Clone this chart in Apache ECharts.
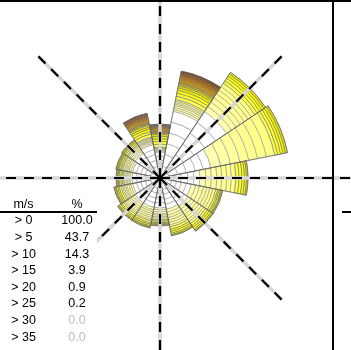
<!DOCTYPE html>
<html><head><meta charset="utf-8">
<script src="https://cdn.jsdelivr.net/npm/echarts@6/dist/echarts.min.js"></script>
<style>html,body{margin:0;padding:0;background:#fff}#c{width:351px;height:350px}</style>
</head><body><div id="c"></div>
<script>
// 16 wind directions
const directions = ['N','NNE','NE','ENE','E','ESE','SE','SSE','S','SSW','SW','WSW','W','WNW','NW','NNW'];

// Ring widths per direction (radial frequency units), speed sub-bins from calm outwards:
// 6 white, 7 pale yellow, 5 yellow, 3 gold, 3 orange, 3 brown
const ringsN   = [5,5,4,4,4,4, 1,1,0.8,0.7,0.6,0.5,0.4, 3,3,2.5,2.5,2, 1.2,1,0.8, 1.5,1.3,1.2, 1.2,1,0.8];
const ringsNNE = [12,12,11,11,11,11, 2,2,2,1.5,1.5,1.5,1.5, 3.5,3,3,2.5,2, 1.5,1.3,1.2, 2.2,2,1.8, 2,1.6,1.4];
const ringsNE  = [14,14,13,13,13,13, 6,5.5,5,5,4.5,4,4, 3,3,2.5,2.5,2];
const ringsENE = [9,9,9,9,8,8, 10,10,9.5,9,9,9,8.5, 3,3,2.5,2.5,2];
const ringsE   = [7,7,7,7,6,6, 6,5.5,5.5,5,5,4.5,4.5, 3,3,2.5,2,1.5];
const ringsESE = [6,6,5,5,5,5, 4.5,4,4,3.5,3,3,3, 2,1.5,1.5,1,1];
const ringsSE  = [6,6,6,6,5,5, 3.5,3.5,3,3,3,2.5,2.5, 2.5,2,2,1.5,1];
const ringsSSE = [6,6,5,5,5,5, 3,3,2.5,2.5,2.5,2.5,2, 2.5,2,2,1.5,1];
const ringsS   = [5,5,5,5,5,5, 2,2,2,1.5,1.5,1.5,1.5, 1.5,1.5,1,1,1];
const ringsSSW = [5.5,5,5,5,5,4.5, 2.5,2,2,2,2,2,1.5, 2,1.5,1.5,1,1];
const ringsSW  = [5,5,5,5,5,5, 2.5,2.5,2,2,2,1.5,1.5, 2,1.5,1.5,1,1];
const ringsWSW = [5,5,5,4.5,4.5,4, 2,2,2,1.5,1.5,1.5,1.5, 2,1.5,1.5,1,1];
const ringsW   = [5,5,4.5,4.5,4.5,4.5, 2,1.5,1.5,1.5,1.5,1,1, 1.5,1.5,1,1,1];
const ringsWNW = [5,5,5,4.5,4.5,4, 2,2,1.5,1.5,1.5,1.5,1, 1.5,1.5,1,1,1];
const ringsNW  = [5,5,5,5,5,5, 2,1.5,1.5,1.5,1.5,1,1, 1.5,1.5,1,1,1];
const ringsNNW = [6,6,6,6,5,5, 1.5,1.5,1,1,1,1,1, 3,2.5,2.5,2,2, 1.2,1,0.8, 2,1.6,1.4, 1.6,1.3,1.1];

// Speed-class table (legend)
const speedLabels = ['> 0','> 5','> 10','> 15','> 20','> 25','> 30','> 35'];
const speedPct    = ['100.0','43.7','14.3','3.9','0.9','0.2','0.0','0.0'];

// Compass guide lines (degrees clockwise from north)
const guideAngles = [0,45,90,135,180,225,270,315];

const ringsByDir = [ringsN,ringsNNE,ringsNE,ringsENE,ringsE,ringsESE,ringsSE,ringsSSE,
                    ringsS,ringsSSW,ringsSW,ringsWSW,ringsW,ringsWNW,ringsNW,ringsNNW];

const binColors = [
  '#ffffff','#ffffff','#ffffff','#ffffff','#ffffff','#ffffff',
  '#ffffb0','#ffffa4','#ffff9c','#ffff96','#ffff90','#ffff8a','#ffff84',
  '#ffff50','#ffff30','#ffff10','#f4f400','#e8e800',
  '#f0d800','#e8c400','#e0b000',
  '#d89a00','#cc8400','#c07000',
  '#a85800','#884400','#683000'
];
const nBins = binColors.length;

const series = [];
for (let b = 0; b < nBins; b++) {
  series.push({
    type: 'bar', coordinateSystem: 'polar', stack: 'rose', silent: true,
    barCategoryGap: '0%', barGap: '-100%',
    data: ringsByDir.map(r => (r[b] ? r[b] : '-')),
    itemStyle: { color: binColors[b], borderColor: b < 13 ? '#999' : '#707070', borderWidth: 0.6 },
    z: 2
  });
}
const totals = ringsByDir.map(r => r.reduce((a, v) => a + v, 0));
series.push({
  type: 'bar', coordinateSystem: 'polar', stack: 'outline', silent: true,
  barCategoryGap: '0%', barGap: '-100%',
  data: totals,
  itemStyle: { color: 'rgba(0,0,0,0)', borderColor: '#666', borderWidth: 0.7 },
  z: 3
});

const C = [160, 178];
const font = "12.5px 'Liberation Sans', Arial, sans-serif";
const graphics = [];
// guide lines from the rose centre
guideAngles.forEach(a => {
  const len = (a % 90 === 0) ? 200 : 172;
  const rad = a * Math.PI / 180;
  const x2 = C[0] + len * Math.sin(rad), y2 = C[1] - len * Math.cos(rad);
  graphics.push({ type: 'line', z: 10, silent: true, shape: { x1: C[0], y1: C[1], x2: x2, y2: y2 },
    style: { stroke: '#d6d6d6', lineWidth: 3.5, lineCap: 'butt' } });
  graphics.push({ type: 'line', z: 11, silent: true, shape: { x1: C[0], y1: C[1], x2: x2, y2: y2 },
    style: { stroke: '#000', lineWidth: 2.2, lineDash: [10, 8], lineCap: 'butt' } });
});
graphics.push(
  { type: 'rect', shape: { x: 0, y: 190, width: 97, height: 160 }, style: { fill: '#fff' }, z: 40, silent: true },
  { type: 'text', z: 41, style: { text: 'm/s', x: 23.5, y: 205, font: font, fill: '#000', textAlign: 'center', textVerticalAlign: 'middle' } },
  { type: 'text', z: 41, style: { text: '%', x: 77, y: 205, font: font, fill: '#000', textAlign: 'center', textVerticalAlign: 'middle' } },
  { type: 'line', z: 41, shape: { x1: 0, y1: 212, x2: 97, y2: 212 }, style: { stroke: '#000', lineWidth: 2 } },
  { type: 'line', z: 41, shape: { x1: 333, y1: 0, x2: 333, y2: 350 }, style: { stroke: '#000', lineWidth: 2 } },
  { type: 'line', z: 41, shape: { x1: 0, y1: 1, x2: 351, y2: 1 }, style: { stroke: '#000', lineWidth: 2 } },
  { type: 'line', z: 41, shape: { x1: 342, y1: 212, x2: 351, y2: 212 }, style: { stroke: '#000', lineWidth: 2 } }
);
speedLabels.forEach((s, i) => {
  const y = 221 + i * 16.6;
  const col = i >= 6 ? '#bdbdbd' : '#000';
  graphics.push({ type: 'text', z: 41, style: { text: s, x: 23.5, y: y, font: font, fill: '#000', textAlign: 'center', textVerticalAlign: 'middle' } });
  graphics.push({ type: 'text', z: 41, style: { text: speedPct[i], x: 77, y: y, font: font, fill: col, textAlign: 'center', textVerticalAlign: 'middle' } });
});

const chart = echarts.init(document.getElementById('c'), null, { renderer: 'canvas' });
chart.setOption({
  animation: false,
  backgroundColor: '#fff',
  polar: { center: C, radius: 172 },
  angleAxis: { type: 'category', data: directions, startAngle: 101.25, boundaryGap: true,
    axisLine: { show: false }, axisTick: { show: false }, axisLabel: { show: false }, splitLine: { show: false } },
  radiusAxis: { type: 'value', min: 0, max: 172, show: false },
  series: series,
  graphic: graphics
});
</script>
</body></html>
